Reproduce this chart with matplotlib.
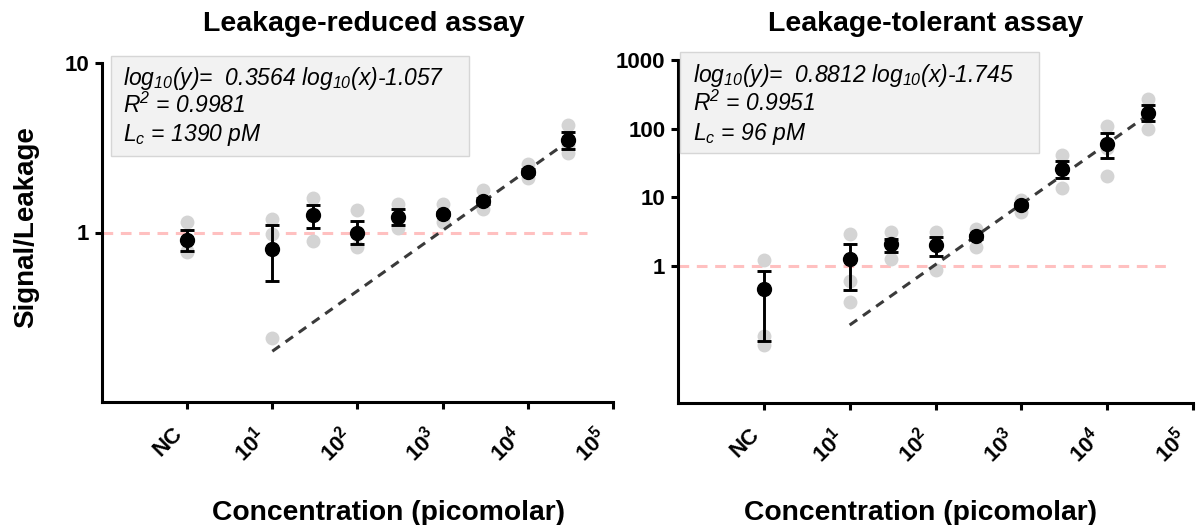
import numpy as np
import matplotlib
matplotlib.use("Agg")
import matplotlib.pyplot as plt
from matplotlib.patches import Rectangle

plt.rcParams["font.family"] = ["Liberation Sans", "DejaVu Sans"]
plt.rcParams["mathtext.fontset"] = "custom"
plt.rcParams["mathtext.rm"] = "Liberation Sans:italic"
plt.rcParams["mathtext.it"] = "Liberation Sans:italic"
plt.rcParams["mathtext.bf"] = "Liberation Sans:bold"

# concentrations (pM); NC is put at 10^0 on the log axis
conc = [1, 10, 30, 100, 300, 1000, 3000, 10000, 30000]
xtick_pos = [1, 10, 100, 1000, 10000, 100000]
xtick_labels = ["NC", "10$^{\\mathbf{1}}$", "10$^{\\mathbf{2}}$", "10$^{\\mathbf{3}}$",
                "10$^{\\mathbf{4}}$", "10$^{\\mathbf{5}}$"]

# Leakage-reduced assay
red_mean = [0.90, 0.80, 1.26, 1.00, 1.24, 1.29, 1.54, 2.28, 3.51]
red_hi = [1.04, 1.10, 1.46, 1.17, 1.37, 1.32, 1.60, 2.36, 3.92]
red_lo = [0.78, 0.52, 1.07, 0.85, 1.11, 1.26, 1.48, 2.20, 3.10]
red_rep1 = [1.15, 1.20, 1.60, 1.35, 1.48, 1.48, 1.78, 2.55, 4.30]
red_rep2 = [0.78, 0.98, 1.28, 0.98, 1.20, 1.25, 1.50, 2.25, 3.30]
red_rep3 = [0.77, 0.24, 0.89, 0.82, 1.07, 1.15, 1.37, 2.10, 2.95]
red_fit = (0.3564, -1.057)
red_text = ["log$_{10}$(y)=  0.3564 log$_{10}$(x)-1.057", "R$^2$ = 0.9981", "L$_c$ = 1390 pM"]

# Leakage-tolerant assay
tol_mean = [0.455, 1.25, 2.10, 2.00, 2.68, 7.8, 26.2, 60, 168]
tol_hi = [0.85, 2.10, 2.45, 2.60, 2.85, 8.3, 33.8, 86.5, 223]
tol_lo = [0.081, 0.44, 1.58, 1.41, 2.50, 7.3, 18.8, 37.8, 128]
tol_rep1 = [1.20, 2.94, 3.10, 3.10, 3.40, 9.1, 41, 108, 270]
tol_rep2 = [0.094, 0.61, 2.00, 2.00, 2.70, 8.0, 26, 52, 170]
tol_rep3 = [0.071, 0.30, 1.25, 0.87, 1.90, 6.1, 13.6, 20.5, 100]
tol_fit = (0.8812, -1.745)
tol_text = ["log$_{10}$(y)=  0.8812 log$_{10}$(x)-1.745", "R$^2$ = 0.9951", "L$_c$ = 96 pM"]

W, H = 1196, 525
fig = plt.figure(figsize=(W / 100, H / 100), dpi=100)


def px(x, y):
    return x / W, 1 - y / H


def panel(rect, mean, lo, hi, reps, fit, ylim, yticks, ylabels, box, text_x, lines, text_y,
          title, title_x, xlab_x):
    ax = fig.add_axes(rect)
    ax.set_xscale("log")
    ax.set_yscale("log")
    ax.set_xlim(0.1, 1e5)
    ax.set_ylim(*ylim)

    ax.plot([0.1, 5e4], [1, 1], color="#ffc0c0", lw=2.2, ls=(0, (3.5, 2.5)), zorder=1)
    for r in reps:
        ax.plot(conc, r, "o", color="#d4d4d4", ms=10, mec="none", zorder=2)
    xf = np.array([10, 30000])
    ax.plot(xf, 10 ** (fit[0] * np.log10(xf) + fit[1]), color="#3a3a3a", lw=2.2,
            ls=(0, (3, 2.3)), zorder=3)
    m = np.array(mean)
    ax.errorbar(conc, m, yerr=[m - np.array(lo), np.array(hi) - m], fmt="o", color="black",
                ms=10, elinewidth=2.1, capsize=5, capthick=2.1, zorder=4)

    for s in ["top", "right"]:
        ax.spines[s].set_visible(False)
    for s in ["left", "bottom"]:
        ax.spines[s].set_linewidth(2.2)
    ax.minorticks_off()
    ax.set_xticks(xtick_pos)
    ax.set_xticklabels(xtick_labels, rotation=45, ha="right", fontsize=16, fontweight="bold")
    ax.set_yticks(yticks)
    ax.set_yticklabels(ylabels, fontsize=16, fontweight="bold")
    ax.tick_params(axis="both", width=2.2, length=5)
    ax.tick_params(axis="x", pad=10)
    ax.tick_params(axis="y", pad=4)

    # equation box
    x0, y0 = px(box[0], box[3])
    x1, y1 = px(box[2], box[1])
    fig.add_artist(Rectangle((x0, y0), x1 - x0, y1 - y0, transform=fig.transFigure,
                             facecolor="#f2f2f2", edgecolor="#d6d6d6", lw=1, zorder=5))
    for line, ty in zip(lines, text_y):
        fig.text(*px(text_x, ty), line, fontsize=16.5, style="italic", va="baseline",
                 ha="left", zorder=6)

    fig.text(*px(title_x, 31), title, fontsize=20.5, fontweight="bold", ha="center",
             va="baseline")
    fig.text(*px(xlab_x, 520), "Concentration (picomolar)", fontsize=20.3, fontweight="bold",
             ha="center", va="baseline")
    return ax


panel(list(px(102, 402)) + [511 / W, 339 / H], red_mean, red_lo, red_hi,
      [red_rep1, red_rep2, red_rep3], red_fit, (0.1, 10), [1, 10], ["1", "10"],
      (111, 56, 469, 156), 123, red_text, [85, 113, 141],
      "Leakage-reduced assay", 364, 388)

panel(list(px(678, 403)) + [515 / W, 343 / H], tol_mean, tol_lo, tol_hi,
      [tol_rep1, tol_rep2, tol_rep3], tol_fit, (0.01, 1000), [1, 10, 100, 1000],
      ["1", "10", "100", "1000"],
      (680, 52, 1039, 153), 693, tol_text, [82, 111, 140],
      "Leakage-tolerant assay", 926, 920)

fig.text(*px(26, 227), "Signal/Leakage", fontsize=20, fontweight="bold", rotation=90,
         ha="center", va="center")

fig.savefig("out.png", dpi=100)
